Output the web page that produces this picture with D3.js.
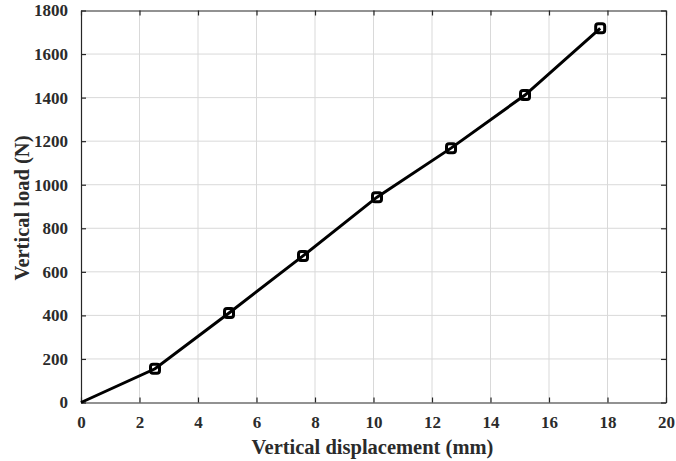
<!DOCTYPE html>
<html>
<head>
<meta charset="utf-8">
<script src="https://cdn.jsdelivr.net/npm/d3@7"></script>
<style>
  body { margin: 0; background: #fff; }
  text { font-family: "Liberation Serif", "Times New Roman", serif; font-weight: bold; }
</style>
</head>
<body>
<div id="chart"></div>
<script>
// data
var displacement = [0, 2.53, 5.06, 7.59, 10.12, 12.65, 15.18, 17.75];
var load = [0, 155, 411, 673, 943, 1168, 1412, 1718];
var xTicks = [0, 2, 4, 6, 8, 10, 12, 14, 16, 18, 20];
var yTicks = [0, 200, 400, 600, 800, 1000, 1200, 1400, 1600, 1800];

var W = 676, H = 461;
var margin = { top: 10.5, right: 10, bottom: 58.5, left: 81 };
var width = W - margin.left - margin.right;
var height = H - margin.top - margin.bottom;

var svg = d3.select("#chart").append("svg")
    .attr("width", W)
    .attr("height", H);

var g = svg.append("g")
    .attr("transform", "translate(" + margin.left + "," + margin.top + ")");

var x = d3.scaleLinear().domain([0, 20]).range([0, width]);
var y = d3.scaleLinear().domain([0, 1800]).range([height, 0]);

// grid
g.append("g").selectAll("line")
    .data(xTicks.slice(1, -1))
    .enter().append("line")
    .attr("x1", d => x(d)).attr("x2", d => x(d))
    .attr("y1", 0).attr("y2", height)
    .attr("stroke", "#d9d9d9").attr("stroke-width", 1);

g.append("g").selectAll("line")
    .data(yTicks.slice(1, -1))
    .enter().append("line")
    .attr("x1", 0).attr("x2", width)
    .attr("y1", d => y(d)).attr("y2", d => y(d))
    .attr("stroke", "#d9d9d9").attr("stroke-width", 1);

// axes, ticks pointing inward, box on
var xAxis = d3.axisBottom(x).tickValues(xTicks).tickFormat(d3.format("d")).tickSizeInner(-5).tickSizeOuter(0).tickPadding(13);
var yAxis = d3.axisLeft(y).tickValues(yTicks).tickFormat(d3.format("d")).tickSizeInner(-5).tickSizeOuter(0).tickPadding(13);
var xTop = d3.axisTop(x).tickValues(xTicks).tickSizeInner(-5).tickSizeOuter(0).tickFormat("");
var yRight = d3.axisRight(y).tickValues(yTicks).tickSizeInner(-5).tickSizeOuter(0).tickFormat("");

function styleAxis(sel) {
    sel.attr("font-family", null);
    sel.selectAll("path, line").attr("stroke", "#262626").attr("stroke-width", 1.2);
    sel.selectAll("text")
        .attr("fill", "#2b2b2b")
        .style("font-family", "'Liberation Serif', serif")
        .style("font-weight", "bold")
        .style("font-size", "17px");
}

g.append("g").attr("transform", "translate(0," + height + ")").call(xAxis).call(styleAxis);
g.append("g").call(yAxis).call(styleAxis);
g.append("g").call(xTop).call(styleAxis);
g.append("g").attr("transform", "translate(" + width + ",0)").call(yRight).call(styleAxis);

// line
var pts = displacement.map((d, i) => [d, load[i]]);
var line = d3.line().x(d => x(d[0])).y(d => y(d[1]));

g.append("path")
    .datum(pts)
    .attr("d", line)
    .attr("fill", "none")
    .attr("stroke", "#000")
    .attr("stroke-width", 3);

g.append("g").selectAll("rect")
    .data(pts.slice(1))
    .enter().append("rect")
    .attr("x", d => x(d[0]) - 4.5)
    .attr("y", d => y(d[1]) - 4.5)
    .attr("width", 9).attr("height", 9)
    .attr("rx", 2.5)
    .attr("fill", "none")
    .attr("stroke", "#000")
    .attr("stroke-width", 3);

// labels
svg.append("text")
    .attr("x", margin.left + width / 2 - 1)
    .attr("y", 454)
    .attr("text-anchor", "middle")
    .attr("fill", "#2b2b2b")
    .style("font-size", "20.5px")
    .text("Vertical displacement (mm)");

svg.append("text")
    .attr("transform", "translate(29," + 208 + ") rotate(-90)")
    .attr("text-anchor", "middle")
    .attr("fill", "#2b2b2b")
    .style("font-size", "20.5px")
    .text("Vertical load (N)");
</script>
</body>
</html>
